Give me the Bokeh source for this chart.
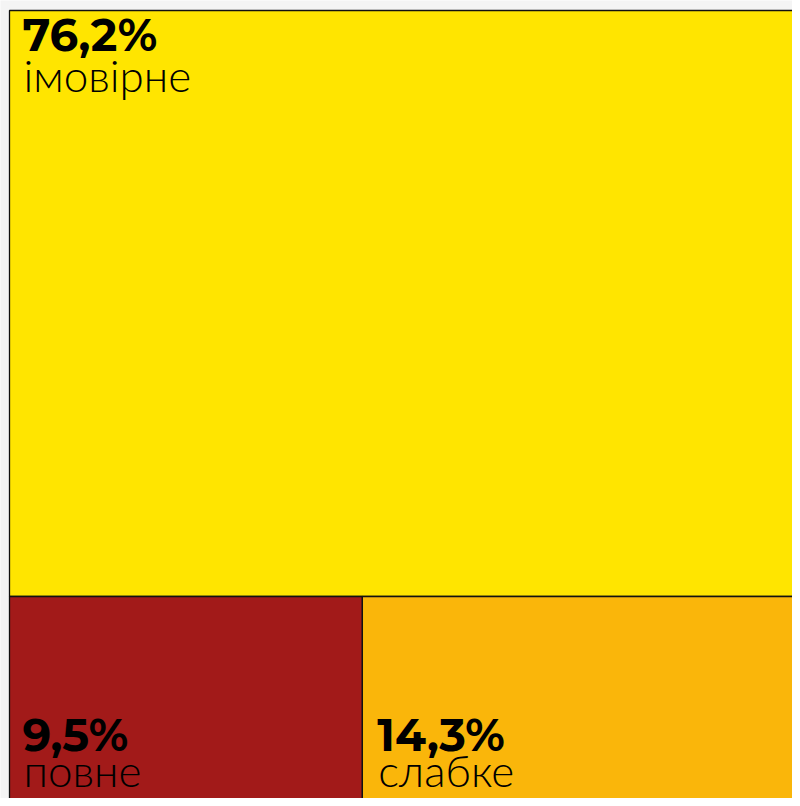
from bokeh.plotting import figure
from bokeh.models import ColumnDataSource, Range1d
from bokeh.embed import file_html
from bokeh.resources import INLINE
from bokeh.core.properties import value

# data
categories = ["імовірне", "повне", "слабке"]
shares = [76.2, 9.5, 14.3]
share_labels = ["76,2%", "9,5%", "14,3%"]
colors = ["#FFE500", "#A21A19", "#FAB60A"]

total = sum(shares)
top_h = shares[0] / total          # top row height fraction
split_y = 1 - top_h
bottom_total = shares[1] + shares[2]
split_x = shares[1] / bottom_total

# treemap layout (top row: first item; bottom row: the other two)
left = [0, 0, split_x]
right = [1, split_x, 1]
top = [1, split_y, split_y]
bottom = [split_y, -0.2, -0.2]   # bottom row continues below the visible window

src = ColumnDataSource(dict(left=left, right=right, top=top, bottom=bottom,
                            color=colors, cat=categories, lab=share_labels))

W, H = 792, 798
px_x = 884.0
px_y = 586.0 / top_h
x0 = -9.0 / px_x
x1 = x0 + W / px_x
y1 = 1 + 10.0 / px_y
y0 = y1 - H / px_y

p = figure(width=W, height=H, output_backend="svg", toolbar_location=None,
           x_range=Range1d(x0, x1), y_range=Range1d(y0, y1),
           min_border=0, background_fill_color="#f4f4f4",
           border_fill_color="#f4f4f4")
p.axis.visible = False
p.grid.visible = False
p.outline_line_color = None

p.quad(left="left", right="right", top="top", bottom="bottom",
       fill_color="color", line_color="#111111", line_width=1.3, source=src)

# label anchors: top-left of each cell (bottom row anchored at row top)
ax = [left[0], left[1], left[2]]
ay = [top[0], top[1], top[2]]
num_off = [24, 138, 138]
cat_off = [64, 173, 173]
num_x = [13, 13, 15]
cat_x = [14, 14, 16]
lsrc = ColumnDataSource(dict(x=ax, y=ay, lab=share_labels, cat=categories,
                             no=num_off, co=cat_off, nx=num_x, cx=cat_x))

p.text(x="x", y="y", text="lab", source=lsrc, x_offset="nx", y_offset="no",
       text_font=value("'Montserrat Black', Montserrat, 'Lato Black', Lato"),
       text_font_style="bold",
       text_font_size="45px", text_color="#000000", text_baseline="alphabetic")
p.text(x="x", y="y", text="cat", source=lsrc, x_offset="cx", y_offset="co",
       text_font=value("'Lato Light', Lato"), text_font_size="44px",
       text_color="#000000", text_baseline="alphabetic")

html = file_html(p, INLINE)
html = html.replace("<body>", '<body style="background:#f4f4f4">', 1)
open("out.html", "w").write(html)
